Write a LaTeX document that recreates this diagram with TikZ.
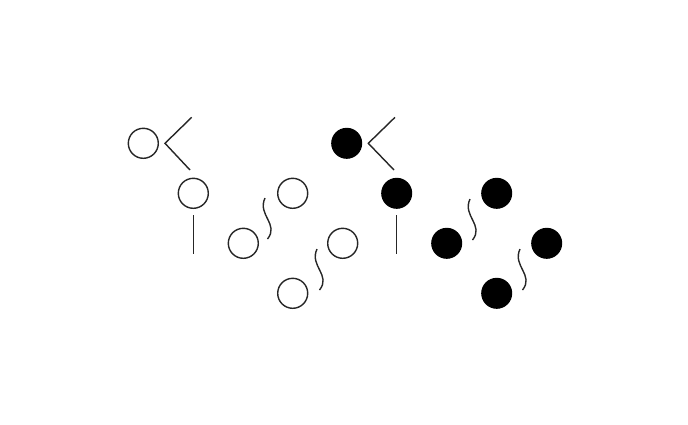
\documentclass[tikz,border=0pt]{standalone}
\begin{document}
\begin{tikzpicture}[x=1pt,y=-1pt,
  ln/.style={line width=1.4pt,black!85},
  oc/.style={circle,draw=black!85,line width=1.4pt,minimum size=30pt,inner sep=0pt},
  fc/.style={circle,fill=black,draw=black,line width=1pt,minimum size=30pt,inner sep=0pt}]
\useasboundingbox[fill=white] (0,0) rectangle (688,424);
% open circles
\node[oc] (o1) at (143.3,143.3) {};
\node[oc] (o2) at (193.3,193.3) {};
\node[oc] (o3) at (243.3,243.3) {};
\node[oc] (o4) at (292.7,193.3) {};
\node[oc] (o5) at (292.7,293.3) {};
\node[oc] (o6) at (342.7,243.3) {};
% filled circles
\node[fc] (f1) at (346.7,143.3) {};
\node[fc] (f2) at (396.7,193.3) {};
\node[fc] (f3) at (446.7,243.3) {};
\node[fc] (f4) at (496.7,193.3) {};
\node[fc] (f5) at (546.7,243.3) {};
\node[fc] (f6) at (496.7,293.3) {};
% chevrons
\coordinate (c1t) at (191.7,117.3); \coordinate (c1v) at (165,143.3); \coordinate (c1b) at (190,170);
\draw[ln] (c1t) -- (c1v) -- (c1b);
\coordinate (c2t) at (395,117.3); \coordinate (c2v) at (368.3,143.3); \coordinate (c2b) at (394,170);
\draw[ln] (c2t) -- (c2v) -- (c2b);
% vertical bars
\coordinate (b1t) at (193.3,215); \coordinate (b1b) at (193.3,254);
\draw[ln] (b1t) -- (b1b);
\coordinate (b2t) at (396.7,215); \coordinate (b2b) at (396.7,254);
\draw[ln] (b2t) -- (b2b);
% squiggles
\foreach \p in {(265,198),(317,249),(470,199),(520,249)}{
  \draw[ln] \p .. controls +(-8,17) and +(12,-15) .. ++(2.5,41);
}
\end{tikzpicture}
\end{document}
